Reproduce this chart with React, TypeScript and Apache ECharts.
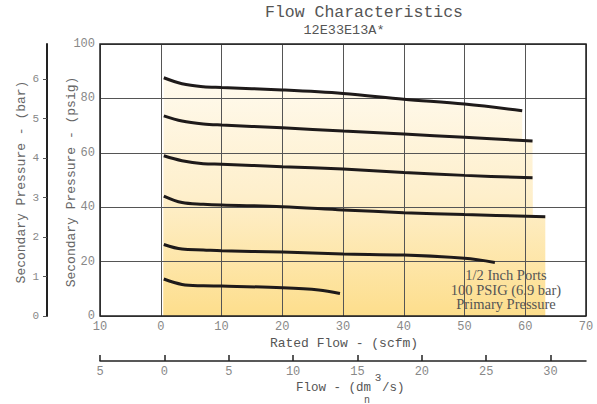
import React, { useEffect, useRef } from 'react';
import * as echarts from 'echarts';

// Rated flow (scfm) and secondary pressure (psig)
const flow1 = [0.5, 3.5, 7, 10, 20, 30, 40, 50, 59.5];
const psig1 = [87.6, 85.4, 84.3, 84.0, 83.1, 81.8, 79.7, 77.9, 75.5];
const flow2 = [0.5, 3.5, 7, 10, 20, 30, 40, 50, 61.2];
const psig2 = [73.6, 71.7, 70.6, 70.2, 69.2, 68.0, 66.9, 65.7, 64.3];
const flow3 = [0.5, 3.5, 7, 10, 20, 30, 40, 50, 61.2];
const psig3 = [58.9, 57.1, 56.0, 55.8, 54.9, 54.0, 52.8, 51.7, 50.8];
const flow4 = [0.5, 3.5, 7, 10, 20, 30, 40, 50, 63.3];
const psig4 = [44.1, 41.7, 41.1, 40.8, 40.2, 39.0, 38.0, 37.3, 36.5];
const flow5 = [0.5, 3.5, 7, 10, 20, 30, 40, 50, 55];
const psig5 = [26.3, 24.6, 24.3, 24.0, 23.5, 22.8, 22.4, 21.2, 19.7];
const flow6 = [0.5, 3.5, 7, 10, 20, 26, 29.5];
const psig6 = [13.6, 11.6, 11.1, 11.0, 10.4, 9.6, 8.3];

const barTicks = [0, 1, 2, 3, 4, 5, 6];
const dmTicks = [-5, 0, 5, 10, 15, 20, 25, 30];
const annotation = ['1/2 Inch Ports', '100 PSIG (6.9 bar)', 'Primary Pressure'];

const PSI_PER_BAR = 14.5038;
const DM3_PER_SCFM = 0.4719;
const X_MIN = -10;
const X_MAX = 70;

const MONO = '"Liberation Mono", "DejaVu Sans Mono", monospace';
const SERIF = '"Liberation Serif", "DejaVu Serif", serif';

const curves = [
  [flow1, psig1],
  [flow2, psig2],
  [flow3, psig3],
  [flow4, psig4],
  [flow5, psig5],
  [flow6, psig6],
];

export default function App() {
  const ref = useRef<HTMLDivElement>(null);
  useEffect(() => {
    if (!ref.current) return;
    const chart = echarts.init(ref.current, undefined, { renderer: 'svg' });
    const fill = new echarts.graphic.LinearGradient(
      0, 77, 0, 316,
      [
        { offset: 0, color: '#FFFAEE' },
        { offset: 0.5, color: '#FEEFCB' },
        { offset: 1, color: '#FDDE8C' },
      ],
      true
    );
    const series: any[] = [];
    curves.forEach(([xs, ps], i) => {
      const data = xs.map((x, j) => [x, ps[j]]);
      series.push({
        type: 'line',
        name: 'fill' + i,
        data,
        smooth: 0.35,
        showSymbol: false,
        silent: true,
        lineStyle: { width: 0, opacity: 0 },
        areaStyle: { color: fill, opacity: 1, origin: 'start' },
        z: 1,
      });
    });
    curves.forEach(([xs, ps], i) => {
      const data = xs.map((x, j) => [x, ps[j]]);
      series.push({
        type: 'line',
        name: 'curve' + i,
        data,
        smooth: 0.35,
        showSymbol: false,
        silent: true,
        lineStyle: { width: 3, color: '#1e1a1a', cap: 'butt' },
        z: 5,
      });
    });

    const axisText = { color: '#888', fontFamily: MONO, fontSize: 12 };

    chart.setOption({
      animation: false,
      backgroundColor: '#fff',
      grid: {
        left: 100, right: 11, top: 44, bottom: 88,
        show: true, borderColor: '#222', borderWidth: 1.5, z: 4,
      },
      xAxis: [
        {
          type: 'value', min: X_MIN, max: X_MAX, interval: 10, z: 3,
          axisLine: { show: false },
          axisTick: { show: false },
          axisLabel: { ...axisText, margin: 5, formatter: (v: number) => String(Math.abs(v)) },
          splitLine: { show: true, lineStyle: { color: '#555', width: 1 } },
        },
        {
          type: 'value', position: 'bottom', offset: 45,
          min: -5, max: -5 + (X_MAX - X_MIN) * DM3_PER_SCFM, z: 3,
          axisLine: { show: true, onZero: false, lineStyle: { color: '#222', width: 1.5 } },
          axisTick: { show: true, inside: true, length: 6, customValues: dmTicks, lineStyle: { color: '#222', width: 1.5 } },
          axisLabel: { ...axisText, margin: 5, customValues: dmTicks, formatter: (v: number) => String(Math.abs(v)) },
          splitLine: { show: false },
        },
      ],
      yAxis: [
        {
          type: 'value', min: 0, max: 100, interval: 20, z: 3,
          axisLine: { show: false, onZero: false },
          axisTick: { show: false },
          axisLabel: { ...axisText, margin: 5 },
          splitLine: { show: true, lineStyle: { color: '#555', width: 1 } },
        },
        {
          type: 'value', position: 'left', offset: 53,
          min: 0, max: 100 / PSI_PER_BAR, z: 3,
          axisLine: { show: true, onZero: false, lineStyle: { color: '#222', width: 2 } },
          axisTick: { show: true, length: 4, customValues: barTicks, lineStyle: { color: '#555', width: 1 } },
          axisLabel: { ...axisText, fontSize: 11, margin: 8, customValues: barTicks },
          splitLine: { show: false },
        },
      ],
      series,
      graphic: [
        { type: 'text', x: 364, y: 12, style: { text: 'Flow Characteristics', font: `16.5px ${MONO}`, fill: '#555', align: 'center', verticalAlign: 'middle' } },
        { type: 'text', x: 344, y: 30, style: { text: '12E33E13A*', font: `13.5px ${MONO}`, fill: '#555', align: 'center', verticalAlign: 'middle' } },
        { type: 'text', x: 344, y: 343, style: { text: 'Rated Flow - (scfm)', font: `13px ${MONO}`, fill: '#555', align: 'center', verticalAlign: 'middle' } },
        { type: 'text', x: 371, y: 388, style: { text: 'Flow - (dm', font: `12.5px ${MONO}`, fill: '#555', align: 'right', verticalAlign: 'middle' } },
        { type: 'text', x: 378, y: 378, style: { text: '3', font: `11px ${MONO}`, fill: '#555', align: 'center', verticalAlign: 'middle' } },
        { type: 'text', x: 382, y: 388, style: { text: '/s)', font: `12.5px ${MONO}`, fill: '#555', align: 'left', verticalAlign: 'middle' } },
        { type: 'text', x: 367, y: 400, style: { text: 'n', font: `10px ${MONO}`, fill: '#555', align: 'center', verticalAlign: 'middle' } },
        { type: 'text', x: 71, y: 182, rotation: Math.PI / 2, style: { text: 'Secondary Pressure - (psig)', font: `13px ${MONO}`, fill: '#666', align: 'center', verticalAlign: 'middle' } },
        { type: 'text', x: 21, y: 182, rotation: Math.PI / 2, style: { text: 'Secondary Pressure - (bar)', font: `13px ${MONO}`, fill: '#666', align: 'center', verticalAlign: 'middle' } },
        ...annotation.map((t, i) => ({
          type: 'text', x: 506, y: 275 + i * 14.5, z: 10,
          style: { text: t, font: `14.5px ${SERIF}`, fill: '#555', align: 'center', verticalAlign: 'middle' },
        })),
      ],
    });
    return () => chart.dispose();
  }, []);
  return <div ref={ref} style={{ position: 'fixed', left: 0, top: 0, width: 597, height: 404 }} />;
}
